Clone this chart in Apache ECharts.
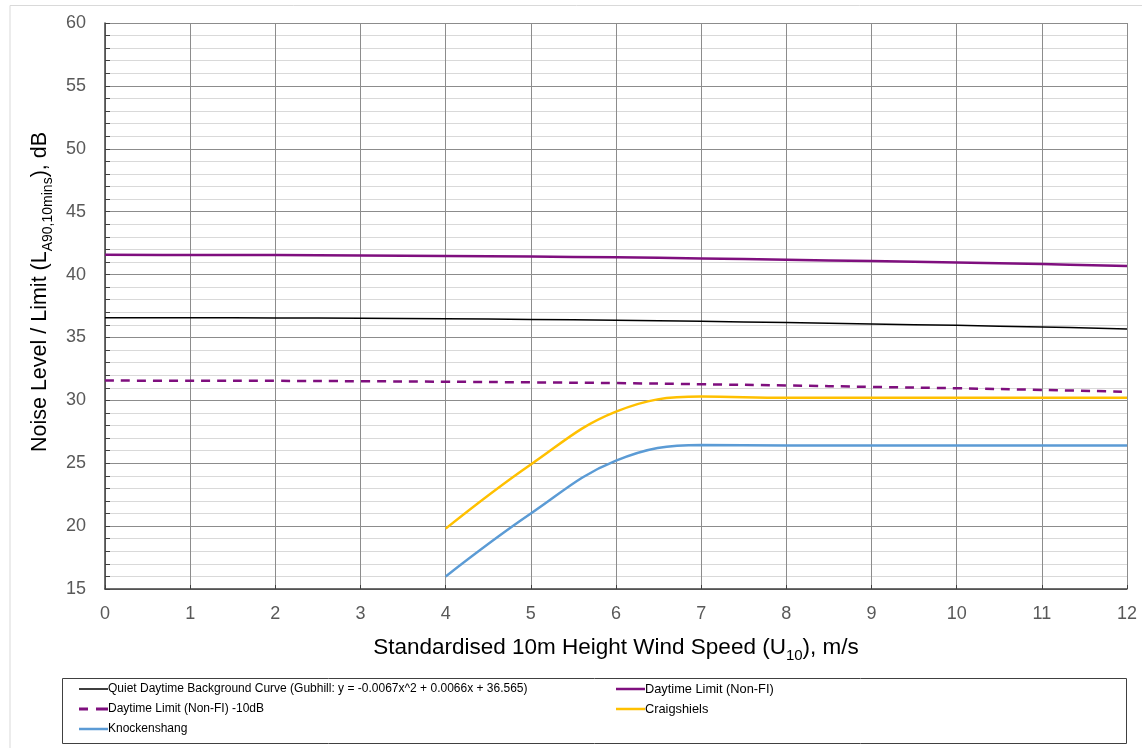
<!DOCTYPE html>
<html>
<head>
<meta charset="utf-8">
<script src="https://cdn.jsdelivr.net/npm/echarts@6/dist/echarts.min.js"></script>
<style>
html,body{margin:0;padding:0;background:#fff;}
#chart{width:1142px;height:748px;}
</style>
</head>
<body>
<div id="chart"></div>
<script>
// ---- data ----
const windSpeed = [0,1,2,3,4,5,6,7,8,9,10,11,12];
const backgroundCurve = [36.57,36.56,36.55,36.52,36.48,36.43,36.37,36.28,36.18,36.07,35.96,35.83,35.68];
const daytimeLimit = [41.57,41.56,41.55,41.52,41.48,41.43,41.37,41.28,41.18,41.07,40.96,40.83,40.68];
const daytimeLimitMinus10 = [31.57,31.56,31.55,31.52,31.48,31.43,31.37,31.28,31.18,31.07,30.96,30.83,30.68];
const turbineSpeeds = [4,5,6,7,8,9,10,11,12];
const craigshiels = [19.8,24.9,29.1,30.3,30.2,30.2,30.2,30.2,30.2];
const knockenshang = [16.0,21.0,25.2,26.45,26.4,26.4,26.4,26.4,26.4];
const yTicks = [15,20,25,30,35,40,45,50,55,60];
const xTicks = [0,1,2,3,4,5,6,7,8,9,10,11,12];

const names = {
  bg: 'Quiet Daytime Background Curve (Gubhill: y = -0.0067x^2 + 0.0066x + 36.565)',
  lim: 'Daytime Limit (Non-FI)',
  lim10: 'Daytime Limit (Non-FI) -10dB',
  cr: 'Craigshiels',
  kn: 'Knockenshang'
};

function pairs(xs, ys){ return xs.map((x,i)=>[x, ys[i]]); }

const FONT = '"Liberation Sans", Arial, sans-serif';
// legend line icons (width 29, height 3 box)
const THIN = 'path://M0,0.75H29V2.25H0Z M0,0H0.01V3H0Z';
const THICK = 'path://M0,0.25H29V2.75H0Z M0,0H0.01V3H0Z';
const DASHED = 'path://M0,0H9V3H0Z M17,0H29V3H17Z';
const chart = echarts.init(document.getElementById('chart'));

chart.setOption({
  animation: false,
  backgroundColor: '#fff',
  graphic: [
    { type: 'polyline', shape: { points: [[10,760],[10,5.5],[1150,5.5]] }, style: { stroke: '#d9d9d9', lineWidth: 1, fill: null }, silent: true },
    { type: 'text', left: 47, top: -20, style: { text: 'Daytime \u2013 Craigshiels and Knockenshang', fill: '#5b9a1e', font: 'bold 21px ' + FONT } },
    { type: 'rect', shape: { x: 62.5, y: 678.5, width: 1064, height: 65 }, style: { stroke: '#404040', lineWidth: 1, fill: null }, silent: true },
    { type: 'text', x: 40, y: 292, rotation: Math.PI / 2,
      style: {
        text: '{a|Noise Level / Limit (L}{s|A90,10mins}{a|), dB}',
        align: 'center', verticalAlign: 'middle',
        rich: {
          a: { fontSize: 21.5, fill: '#000', fontFamily: FONT, lineHeight: 30, verticalAlign: 'middle' },
          s: { fontSize: 14, fill: '#000', fontFamily: FONT, lineHeight: 14, verticalAlign: 'bottom' }
        }
      }, silent: true }
  ],
  grid: { left: 105, right: 15, top: 23, bottom: 159, containLabel: false },
  legend: [
    {
      orient: 'vertical', left: 79, top: 682, padding: 0, itemGap: 6, itemWidth: 29, itemHeight: 3,
      textStyle: { fontSize: 12, color: '#000', fontFamily: FONT, padding: [0,0,0,-5], lineHeight: 14 },
      data: [{ name: names.bg, icon: THIN }, { name: names.lim10, icon: DASHED }, { name: names.kn, icon: THICK }]
    },
    {
      orient: 'vertical', left: 616, top: 682, padding: 0, itemGap: 6, itemWidth: 29, itemHeight: 3,
      textStyle: { fontSize: 12.8, color: '#000', fontFamily: FONT, padding: [0,0,0,-5], lineHeight: 14 },
      data: [{ name: names.lim, icon: THICK }, { name: names.cr, icon: THICK }]
    }
  ],
  xAxis: {
    type: 'value', min: 0, max: 12, interval: 1,
    name: '{a|Standardised 10m Height Wind Speed (U}{s|10}{a|), m/s}',
    nameLocation: 'middle', nameGap: 44,
    nameTextStyle: {
      rich: {
        a: { fontSize: 22.5, color: '#000', fontFamily: FONT, lineHeight: 30, verticalAlign: 'middle' },
        s: { fontSize: 15, color: '#000', fontFamily: FONT, lineHeight: 14, verticalAlign: 'bottom' }
      }
    },
    axisLine: { show: true, onZero: false, lineStyle: { color: '#404040', width: 1.5 } },
    axisTick: { show: true, inside: true, length: 4, lineStyle: { color: '#404040' } },
    axisLabel: { fontSize: 18, color: '#595959', fontFamily: FONT, margin: 16,
      formatter: v => xTicks.includes(v) ? String(v) : '' },
    splitLine: { show: true, lineStyle: { color: '#8c8c8c', width: 1 } }
  },
  yAxis: {
    type: 'value', min: 15, max: 60, interval: 5,
    axisLine: { show: true, onZero: false, lineStyle: { color: '#404040', width: 1.5 } },
    axisTick: { show: true, inside: true, length: 5, lineStyle: { color: '#404040' } },
    minorTick: { show: true, splitNumber: 5, length: 5, lineStyle: { color: '#404040' } },
    minorSplitLine: { show: true, lineStyle: { color: '#d9d9d9', width: 1 } },
    axisLabel: { fontSize: 18, color: '#595959', fontFamily: FONT, margin: 19,
      formatter: v => yTicks.includes(v) ? String(v) : '' },
    splitLine: { show: true, lineStyle: { color: '#8c8c8c', width: 1 } }
  },
  series: [
    { name: names.bg, type: 'line', data: pairs(windSpeed, backgroundCurve), symbol: 'none', smooth: 0.4,
      lineStyle: { color: '#000000', width: 1.5 }, itemStyle: { color: '#000000' }, z: 3 },
    { name: names.lim, type: 'line', data: pairs(windSpeed, daytimeLimit), symbol: 'none', smooth: 0.4,
      lineStyle: { color: '#7f0f7e', width: 2.5 }, itemStyle: { color: '#7f0f7e' }, z: 3 },
    { name: names.lim10, type: 'line', data: pairs(windSpeed, daytimeLimitMinus10), symbol: 'none', smooth: 0.4,
      lineStyle: { color: '#7f0f7e', width: 2.5, type: [9, 7] }, itemStyle: { color: '#7f0f7e' }, z: 3 },
    { name: names.cr, type: 'line', data: pairs(turbineSpeeds, craigshiels), symbol: 'none', smooth: 0.4,
      lineStyle: { color: '#ffc000', width: 2.5 }, itemStyle: { color: '#ffc000' }, z: 3 },
    { name: names.kn, type: 'line', data: pairs(turbineSpeeds, knockenshang), symbol: 'none', smooth: 0.4,
      lineStyle: { color: '#5b9bd5', width: 2.5 }, itemStyle: { color: '#5b9bd5' }, z: 3 }
  ]
});
</script>
</body>
</html>
